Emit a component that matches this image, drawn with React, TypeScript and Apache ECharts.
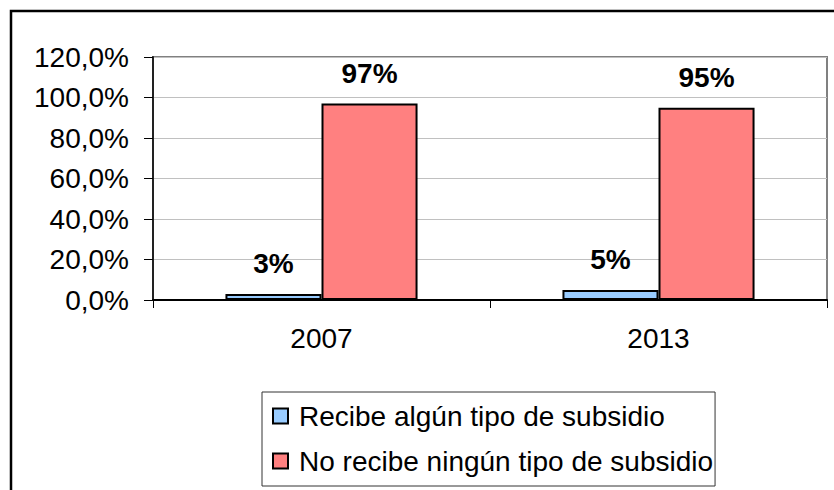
import React, { useEffect, useRef } from "react";
import * as echarts from "echarts";

const categories = ["2007", "2013"];
const recibe = [3, 5];
const noRecibe = [97, 95];
const seriesNames = ["Recibe algún tipo de subsidio", "No recibe ningún tipo de subsidio"];
const yTicks = { min: 0, max: 120, interval: 20 };

const FONT = "'Liberation Sans', Arial, sans-serif";

export default function App() {
  const ref = useRef<HTMLDivElement>(null);
  useEffect(() => {
    if (!ref.current) return;
    const chart = echarts.init(ref.current, null, { renderer: "svg" });
    const label = {
      show: true,
      position: "top",
      distance: 16,
      formatter: "{c}%",
      fontFamily: FONT,
      fontSize: 28,
      fontWeight: "bold",
      color: "#000",
    };
    chart.setOption({
      animation: false,
      backgroundColor: "#fff",
      textStyle: { fontFamily: FONT },
      graphic: [
        {
          type: "rect",
          shape: { x: 11, y: 11, width: 840, height: 500 },
          style: { fill: "none", stroke: "#000", lineWidth: 2.5 },
          z: 100,
        },
      ],
      grid: {
        left: 153,
        top: 57,
        right: 7,
        bottom: 190,
        show: true,
        borderColor: "#808080",
        borderWidth: 2,
      },
      xAxis: {
        type: "category",
        data: categories,
        axisLine: { lineStyle: { color: "#000", width: 2 } },
        axisTick: { show: true, length: 8, lineStyle: { color: "#000", width: 1 } },
        axisLabel: { fontFamily: FONT, fontSize: 28, color: "#000", margin: 24 },
      },
      yAxis: {
        type: "value",
        min: yTicks.min,
        max: yTicks.max,
        interval: yTicks.interval,
        axisLine: { show: true, lineStyle: { color: "#222", width: 2 } },
        axisTick: { show: true, length: 9, lineStyle: { color: "#000", width: 1 } },
        splitLine: { lineStyle: { color: "#c0c0c0", width: 1 } },
        axisLabel: {
          fontFamily: FONT,
          fontSize: 28,
          color: "#000",
          margin: 24,
          formatter: (v: number) => v.toFixed(1).replace(".", ",") + "%",
        },
      },
      legend: {
        orient: "vertical",
        left: 262,
        top: 392,
        icon: "rect",
        itemWidth: 15,
        itemHeight: 15,
        itemGap: 17,
        padding: [10, 2, 11, 10],
        borderColor: "#333",
        borderWidth: 1,
        textStyle: { fontFamily: FONT, fontSize: 28, color: "#000", padding: [0, 0, 0, 6] },
        data: seriesNames,
      },
      series: [
        {
          name: seriesNames[0],
          type: "bar",
          data: recibe,
          barGap: "0%",
          barCategoryGap: "43%",
          itemStyle: { color: "#99CCFF", borderColor: "#000", borderWidth: 2 },
          label,
        },
        {
          name: seriesNames[1],
          type: "bar",
          data: noRecibe,
          barGap: "0%",
          barCategoryGap: "43%",
          itemStyle: { color: "#FF8080", borderColor: "#000", borderWidth: 2 },
          label,
        },
      ],
    });
    return () => chart.dispose();
  }, []);
  return (
    <div
      ref={ref}
      style={{ position: "absolute", left: 0, top: 0, width: 834, height: 490 }}
    />
  );
}
